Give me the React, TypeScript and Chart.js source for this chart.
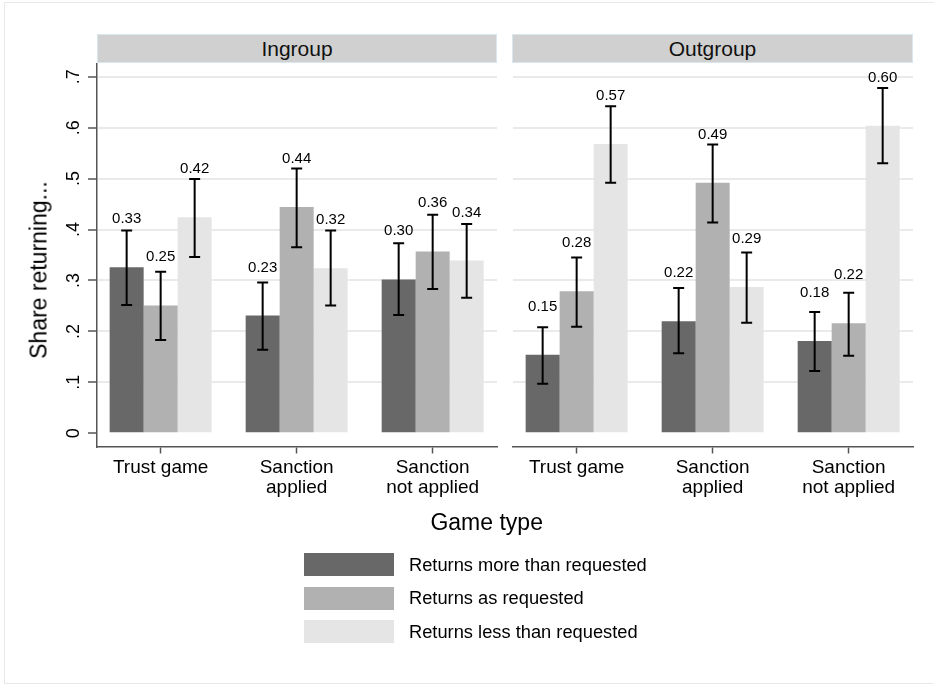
import React, { useEffect, useRef } from "react";
import { Chart, registerables } from "chart.js";

Chart.register(...registerables);

const FONT = '"Liberation Sans", Arial, Helvetica, sans-serif';
Chart.defaults.font.family = FONT;

// ---------- data ----------
const categories: string[][] = [["Trust game"], ["Sanction", "applied"], ["Sanction", "not applied"]];
const panelTitles = ["Ingroup", "Outgroup"];
const seriesNames = ["Returns more than requested", "Returns as requested", "Returns less than requested"];
const seriesColors = ["#686868", "#b1b1b1", "#e5e5e5"];
const yTicks = [0, 0.1, 0.2, 0.3, 0.4, 0.5, 0.6, 0.7];
const yTickLabels = ["0", ".1", ".2", ".3", ".4", ".5", ".6", ".7"];
const yTitle = "Share returning...";
const xTitle = "Game type";

// Ingroup
const inMore = [0.326, 0.231, 0.302];
const inMoreLo = [0.252, 0.164, 0.232];
const inMoreHi = [0.398, 0.296, 0.373];
const inAs = [0.251, 0.444, 0.357];
const inAsLo = [0.183, 0.365, 0.283];
const inAsHi = [0.317, 0.52, 0.429];
const inLess = [0.424, 0.324, 0.339];
const inLessLo = [0.346, 0.251, 0.266];
const inLessHi = [0.499, 0.398, 0.411];

// Outgroup
const outMore = [0.154, 0.22, 0.181];
const outMoreLo = [0.097, 0.157, 0.122];
const outMoreHi = [0.208, 0.285, 0.238];
const outAs = [0.279, 0.492, 0.216];
const outAsLo = [0.209, 0.414, 0.152];
const outAsHi = [0.345, 0.567, 0.276];
const outLess = [0.568, 0.287, 0.604];
const outLessLo = [0.492, 0.217, 0.53];
const outLessHi = [0.642, 0.355, 0.678];

const Y_MIN = -0.026;
const Y_MAX = 0.725;
const X_MIN = -0.468;
const X_MAX = 2.473;

const errorBarPlugin = {
  id: "errorBarsLabels",
  afterDatasetsDraw(chart: any) {
    const ctx = chart.ctx;
    const ys = chart.scales.y;
    chart.data.datasets.forEach((ds: any, i: number) => {
      const meta = chart.getDatasetMeta(i);
      meta.data.forEach((bar: any, j: number) => {
        const x = bar.x;
        const lo = ys.getPixelForValue(ds.lo[j]);
        const hi = ys.getPixelForValue(ds.hi[j]);
        ctx.save();
        ctx.strokeStyle = "#000";
        ctx.lineWidth = 2;
        ctx.beginPath();
        ctx.moveTo(x, lo);
        ctx.lineTo(x, hi);
        ctx.moveTo(x - 5.5, lo);
        ctx.lineTo(x + 5.5, lo);
        ctx.moveTo(x - 5.5, hi);
        ctx.lineTo(x + 5.5, hi);
        ctx.stroke();
        const v = ds.data[j].y;
        ctx.fillStyle = "#000";
        ctx.font = `15px ${FONT}`;
        ctx.textAlign = "center";
        ctx.textBaseline = "alphabetic";
        ctx.fillText(v.toFixed(2), x, ys.getPixelForValue(v) - 44);
        ctx.restore();
      });
    });
  },
};

type PanelProps = {
  more: number[]; moreLo: number[]; moreHi: number[];
  as: number[]; asLo: number[]; asHi: number[];
  less: number[]; lessLo: number[]; lessHi: number[];
  showY: boolean;
  left: number; width: number;
  padLeft: number; padRight: number;
};

function Panel(p: PanelProps) {
  const ref = useRef<HTMLCanvasElement>(null);
  useEffect(() => {
    const H = 450;
    const vals = [p.more, p.as, p.less];
    const los = [p.moreLo, p.asLo, p.lessLo];
    const his = [p.moreHi, p.asHi, p.lessHi];
    const chart = new Chart(ref.current as HTMLCanvasElement, {
      type: "bar",
      data: {
        datasets: vals.map((arr, k) => ({
          label: seriesNames[k],
          data: arr.map((v, i) => ({ x: i, y: v })),
          backgroundColor: seriesColors[k],
          borderWidth: 0,
          categoryPercentage: 0.75,
          barPercentage: 1,
          lo: los[k],
          hi: his[k],
        })) as any,
      },
      options: {
        responsive: false,
        animation: false,
        events: [],
        layout: { autoPadding: false, padding: { top: 4, left: p.padLeft, right: p.padRight, bottom: 0 } },
        plugins: { legend: { display: false }, tooltip: { enabled: false } },
        scales: {
          x: {
            type: "linear",
            min: X_MIN,
            max: X_MAX,
            offset: false,
            afterBuildTicks: (s: any) => {
              s.ticks = categories.map((_, i) => ({ value: i }));
            },
            afterFit: (s: any) => {
              s.height = H - 386.5;
              s.paddingLeft = 0;
              s.paddingRight = 0;
            },
            ticks: {
              callback: (v: any) => categories[Math.round(v)] ?? "",
              font: { size: 19, lineHeight: 1.05 },
              color: "#000",
              padding: 4,
              maxRotation: 0,
              minRotation: 0,
              autoSkip: false,
            },
            grid: {
              drawOnChartArea: false,
              drawTicks: true,
              tickLength: 7,
              tickColor: "#555",
              tickWidth: 1.5,
              offset: false,
            },
            border: { color: "#555", width: 1.5 },
          } as any,
          y: {
            min: Y_MIN,
            max: Y_MAX,
            afterBuildTicks: (s: any) => {
              s.ticks = yTicks.map((v) => ({ value: v }));
            },
            afterFit: (s: any) => {
              s.width = p.showY ? 97 : 0;
              s.paddingTop = 0;
              s.paddingBottom = 0;
            },
            ticks: {
              display: p.showY,
              callback: (v: any) => {
                const idx = yTicks.findIndex((t) => Math.abs(t - v) < 1e-6);
                return idx >= 0 ? yTickLabels[idx] : "";
              },
              minRotation: 90,
              maxRotation: 90,
              crossAlign: "center",
              padding: 6,
              font: { size: 18 },
              color: "#000",
            },
            grid: {
              color: (c: any) => (c.tick && Math.abs(c.tick.value) < 1e-9 ? "rgba(0,0,0,0)" : "#eaeaea"),
              lineWidth: 2,
              drawTicks: p.showY,
              tickLength: 9,
              tickColor: "#555",
              tickWidth: 1.5,
            },
            border: { display: p.showY, color: "#555", width: 1.5 },
          } as any,
        },
      },
      plugins: [errorBarPlugin],
    });
    return () => chart.destroy();
  }, []);
  return (
    <canvas
      ref={ref}
      width={p.width}
      height={450}
      style={{ position: "absolute", left: p.left, top: 60, width: p.width, height: 450 }}
    />
  );
}

const headerStyle = (left: number, width: number): React.CSSProperties => ({
  position: "absolute",
  left,
  top: 34,
  width,
  height: 29,
  boxSizing: "border-box",
  background: "#d0d0d0",
  border: "1px solid #dbe7ee",
  textAlign: "center",
  lineHeight: "27px",
  fontSize: 21,
  color: "#111",
});

export default function App() {
  return (
    <div
      style={{
        position: "absolute",
        left: 0,
        top: 0,
        width: 934,
        height: 685,
        overflow: "hidden",
        background: "#fff",
        fontFamily: FONT,
      }}
    >
      <div
        style={{
          position: "absolute",
          left: 4,
          top: 2,
          width: 960,
          height: 682,
          border: "1px solid #e8e8e8",
          boxSizing: "border-box",
        }}
      />
      <div style={headerStyle(97, 400)}>{panelTitles[0]}</div>
      <div style={headerStyle(512, 401)}>{panelTitles[1]}</div>
      <Panel
        more={inMore} moreLo={inMoreLo} moreHi={inMoreHi}
        as={inAs} asLo={inAsLo} asHi={inAsHi}
        less={inLess} lessLo={inLessLo} lessHi={inLessHi}
        showY={true} left={0} width={500} padLeft={0} padRight={3}
      />
      <Panel
        more={outMore} moreLo={outMoreLo} moreHi={outMoreHi}
        as={outAs} asLo={outAsLo} asHi={outAsHi}
        less={outLess} lessLo={outLessLo} lessHi={outLessHi}
        showY={false} left={500} width={434} padLeft={13} padRight={21}
      />
      <div
        style={{
          position: "absolute",
          left: 38.5,
          top: 270,
          transform: "translate(-50%, -50%) rotate(-90deg)",
          whiteSpace: "nowrap",
          fontSize: 23,
          color: "#000",
        }}
      >
        {yTitle}
      </div>
      <div
        style={{
          position: "absolute",
          left: 486.7,
          top: 521.7,
          transform: "translate(-50%, -50%)",
          whiteSpace: "nowrap",
          fontSize: 23,
          color: "#000",
        }}
      >
        {xTitle}
      </div>
      {seriesNames.map((name, k) => {
        const tops = [553, 586.7, 620];
        return (
          <React.Fragment key={name}>
            <div
              style={{
                position: "absolute",
                left: 304,
                top: tops[k],
                width: 90,
                height: 23,
                background: seriesColors[k],
              }}
            />
            <div
              style={{
                position: "absolute",
                left: 409,
                top: tops[k] + 11.5,
                transform: "translateY(-50%)",
                whiteSpace: "nowrap",
                fontSize: 18.3,
                color: "#000",
              }}
            >
              {name}
            </div>
          </React.Fragment>
        );
      })}
    </div>
  );
}
